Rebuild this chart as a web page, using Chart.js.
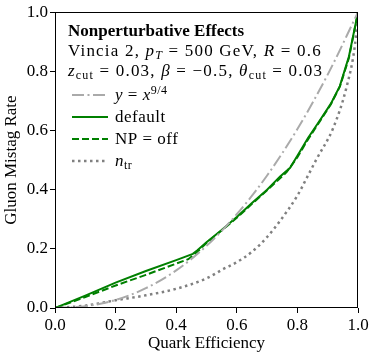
<!DOCTYPE html>
<html>
<head>
<meta charset="utf-8">
<script src="https://cdn.jsdelivr.net/npm/chart.js@4.4.1/dist/chart.umd.min.js"></script>
<style>
  html, body { margin: 0; padding: 0; background: #fff; }
  #wrap { width: 374px; height: 357px; }
</style>
</head>
<body>
<div id="wrap"><canvas id="mistagChart"></canvas></div>
<script>
// Values
const tickValues = [0, 0.2, 0.4, 0.6, 0.8, 1.0];

const powerEff = [0, 0.1, 0.2, 0.3, 0.4, 0.5, 0.6, 0.7, 0.8, 0.9, 1.0];
const powerRate = [0, 0.006, 0.027, 0.067, 0.127, 0.21, 0.317, 0.448, 0.605, 0.789, 1.0];

const defaultEff = [0, 0.1, 0.2, 0.3, 0.4, 0.455, 0.47, 0.5, 0.55, 0.6, 0.65, 0.7, 0.743, 0.776, 0.8, 0.835, 0.87, 0.91, 0.94, 0.97, 1.0];
const defaultRate = [0, 0.042, 0.086, 0.125, 0.162, 0.183, 0.195, 0.222, 0.264, 0.308, 0.355, 0.40, 0.445, 0.474, 0.515, 0.575, 0.628, 0.69, 0.75, 0.85, 1.0];

const npOffEff = [0, 0.1, 0.2, 0.3, 0.4, 0.44, 0.47, 0.5, 0.55, 0.6, 0.65, 0.7, 0.765, 0.8, 0.835, 0.87, 0.91, 0.94, 0.97, 1.0];
const npOffRate = [0, 0.037, 0.076, 0.112, 0.15, 0.165, 0.19, 0.22, 0.262, 0.305, 0.352, 0.398, 0.46, 0.51, 0.57, 0.625, 0.688, 0.748, 0.845, 1.0];

const ntrEff = [0, 0.1, 0.2, 0.3, 0.4, 0.5, 0.556, 0.6, 0.65, 0.7, 0.743, 0.8, 0.831, 0.864, 0.918, 0.963, 0.99, 1.0];
const ntrRate = [0, 0.008, 0.026, 0.043, 0.065, 0.1, 0.132, 0.155, 0.19, 0.24, 0.295, 0.38, 0.44, 0.505, 0.608, 0.75, 0.89, 1.0];

const seriesNames = ['y = x^9/4', 'default', 'NP = off', 'n_tr'];

const FONT = "'Liberation Serif', 'DejaVu Serif', serif";

function toPoints(xs, ys) {
  return xs.map((x, i) => ({ x: x, y: ys[i] }));
}

// rich text segments: r roman, b bold, i italic, sub/isub subscript, sup superscript
const headerLines = [
  [['Nonperturbative Effects', 'b']],
  [['Vincia 2, ', 'r'], ['p', 'i'], ['T', 'isub'], [' = 500 GeV, ', 'r'], ['R', 'i'], [' = 0.6', 'r']],
  [['z', 'i'], ['cut', 'sub'], [' = 0.03, ', 'r'], ['β', 'i'], [' = −0.5, ', 'r'], ['θ', 'i'], ['cut', 'sub'], [' = 0.03', 'r']]
];
const legendLabels = [
  [['y', 'i'], [' = ', 'r'], ['x', 'i'], ['9/4', 'sup']],
  [['default', 'r']],
  [['NP = off', 'r']],
  [['n', 'i'], ['tr', 'sub']]
];

function drawRich(ctx, segs, x, y, size, spacing) {
  segs.forEach(([txt, st]) => {
    let font = size + 'px ' + FONT, dy = 0;
    if (st === 'b') font = 'bold ' + size + 'px ' + FONT;
    if (st === 'i') font = 'italic ' + size + 'px ' + FONT;
    if (st === 'sub') { font = Math.round(size * 0.7) + 'px ' + FONT; dy = 3; }
    if (st === 'isub') { font = 'italic ' + Math.round(size * 0.7) + 'px ' + FONT; dy = 3; }
    if (st === 'sup') { font = Math.round(size * 0.7) + 'px ' + FONT; dy = -6; }
    ctx.font = font;
    ctx.letterSpacing = (st === 'b' ? 0 : spacing) + 'px';
    ctx.fillText(txt, x, y + dy);
    x += ctx.measureText(txt).width;
  });
  ctx.letterSpacing = '0px';
}

const panelPlugin = {
  id: 'panel',
  afterDraw(chart) {
    const ctx = chart.ctx;
    const a = chart.chartArea;
    ctx.save();
    ctx.strokeStyle = '#000';
    ctx.lineWidth = 1;
    ctx.strokeRect(Math.round(a.left) + 0.5, Math.round(a.top) + 0.5,
      Math.round(a.right - a.left) - 1, Math.round(a.bottom - a.top) - 1);

    ctx.fillStyle = '#000';
    ctx.textBaseline = 'alphabetic';
    const tx = a.left + 13;
    headerLines.forEach((segs, i) => drawRich(ctx, segs, tx, 36 + i * 20, 17, 1.2));

    chart.data.datasets.forEach((ds, i) => {
      const yy = 95 + i * 22;
      ctx.beginPath();
      ctx.strokeStyle = ds.borderColor;
      ctx.lineWidth = ds.borderWidth;
      ctx.setLineDash(ds.borderDash || []);
      ctx.moveTo(a.left + 17, yy);
      ctx.lineTo(a.left + 53, yy);
      ctx.stroke();
      ctx.setLineDash([]);
      drawRich(ctx, legendLabels[i], a.left + 60, yy + 5, 17, 0.5);
    });
    ctx.restore();
  }
};

const ctx = document.getElementById('mistagChart').getContext('2d');
const mistagChart = new Chart(ctx, {
  type: 'line',
  data: {
    datasets: [
      {
        label: seriesNames[0],
        data: toPoints(powerEff, powerRate),
        borderColor: '#aaaaaa',
        borderWidth: 2,
        borderDash: [12, 3.5, 2, 3.5],
        cubicInterpolationMode: 'monotone'
      },
      {
        label: seriesNames[1],
        data: toPoints(defaultEff, defaultRate),
        borderColor: '#008000',
        borderWidth: 2
      },
      {
        label: seriesNames[2],
        data: toPoints(npOffEff, npOffRate),
        borderColor: '#008000',
        borderWidth: 2,
        borderDash: [7, 3]
      },
      {
        label: seriesNames[3],
        data: toPoints(ntrEff, ntrRate),
        borderColor: '#808080',
        borderWidth: 2.5,
        borderDash: [2.5, 3.5],
        cubicInterpolationMode: 'monotone'
      }
    ]
  },
  options: {
    responsive: true,
    maintainAspectRatio: false,
    animation: false,
    layout: { padding: { left: 0, right: 16, top: 10, bottom: 0 } },
    elements: { point: { radius: 0 }, line: { fill: false } },
    plugins: { legend: { display: false }, tooltip: { enabled: false } },
    scales: {
      x: {
        type: 'linear',
        min: 0,
        max: 1,
        afterBuildTicks: s => { s.ticks = tickValues.map(v => ({ value: v })); },
        afterFit: s => { s.height = 49; },
        border: { display: false },
        grid: { drawOnChartArea: false, drawTicks: true, tickLength: 5, color: '#000' },
        ticks: { color: '#000', padding: 2, maxRotation: 0, font: { family: FONT, size: 17 }, callback: v => v.toFixed(1) },
        title: { display: true, text: 'Quark Efficiency', color: '#000', padding: { top: 0, bottom: 3 }, font: { family: FONT, size: 17 } }
      },
      y: {
        type: 'linear',
        min: 0,
        max: 1,
        afterBuildTicks: s => { s.ticks = tickValues.map(v => ({ value: v })); },
        afterFit: s => { s.width = 55; },
        border: { display: false },
        grid: { drawOnChartArea: false, drawTicks: true, tickLength: 5, color: '#000' },
        ticks: { color: '#000', padding: 2, font: { family: FONT, size: 17 }, callback: v => v.toFixed(1) },
        title: { display: true, text: 'Gluon Mistag Rate', color: '#000', padding: { top: 1, bottom: 0 }, font: { family: FONT, size: 17 } }
      }
    }
  },
  plugins: [panelPlugin]
});
</script>
</body>
</html>
